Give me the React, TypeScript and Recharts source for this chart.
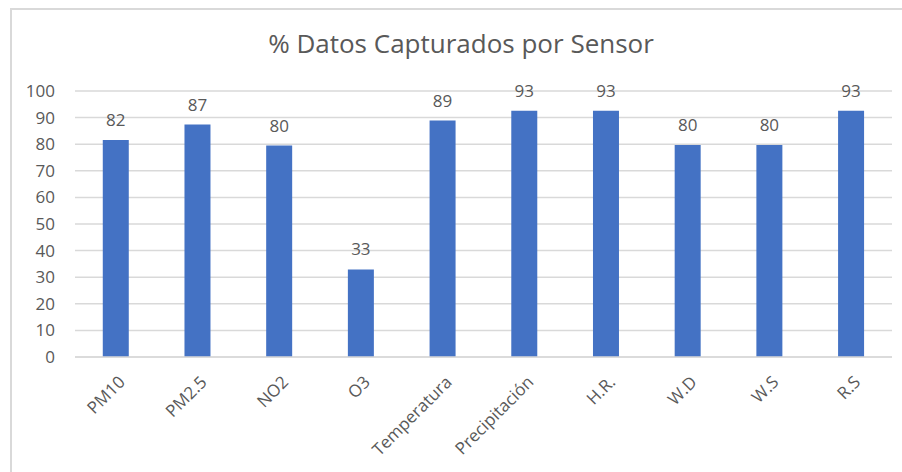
import { BarChart, Bar, XAxis, YAxis, CartesianGrid, LabelList } from "recharts";

const sensors = [
  "PM10",
  "PM2.5",
  "NO2",
  "O3",
  "Temperatura",
  "Precipitación",
  "H.R.",
  "W.D",
  "W.S",
  "R.S",
];
const captured = [81.6, 87.4, 79.5, 32.9, 88.9, 92.6, 92.6, 79.7, 79.7, 92.6];
const yTicks = [0, 10, 20, 30, 40, 50, 60, 70, 80, 90, 100];

const data = sensors.map((name, i) => ({ name, value: captured[i] }));

const FONT = "'Open Sans', 'Noto Sans', sans-serif";
const GREY = "#595959";

function RotatedTick(props: any) {
  const { x, y, payload } = props;
  return (
    <g transform={`translate(${x + 6},${y + 14})`}>
      <text
        transform="rotate(-45)"
        textAnchor="end"
        fill={GREY}
        fontSize={17}
        fontFamily={FONT}
        dy={6}
      >
        {payload.value}
      </text>
    </g>
  );
}

export default function App() {
  return (
    <div style={{ position: "absolute", left: 0, top: 0, width: 902, height: 472, background: "#fff" }}>
      <div
        style={{
          position: "absolute",
          left: 10,
          top: 8,
          width: 900,
          height: 470,
          border: "2px solid #d9d9d9",
        }}
      />
      <div
        style={{
          position: "absolute",
          left: 0,
          top: 25,
          width: 922,
          textAlign: "center",
          fontFamily: FONT,
          fontSize: 26,
          color: GREY,
        }}
      >
        % Datos Capturados por Sensor
      </div>
      <div style={{ position: "absolute", left: 0, top: 0 }}>
        <BarChart
          width={902}
          height={472}
          data={data}
          margin={{ top: 91, right: 10, bottom: 0, left: 0 }}
          barCategoryGap="34%"
        >
          <CartesianGrid vertical={false} stroke="#d9d9d9" strokeWidth={1.5} />
          <XAxis
            dataKey="name"
            interval={0}
            height={115}
            axisLine={{ stroke: "#d9d9d9", strokeWidth: 1.5 }}
            tickLine={false}
            tick={<RotatedTick />}
          />
          <YAxis
            width={75}
            domain={[0, 100]}
            ticks={yTicks}
            interval={0}
            axisLine={false}
            tickLine={false}
            tickMargin={14}
            tick={{ fill: GREY, fontSize: 17, fontFamily: FONT }}
          />
          <Bar dataKey="value" fill="#4472c4" isAnimationActive={false}>
            <LabelList
              dataKey="value"
              position="top"
              offset={14}
              formatter={(v: any) => Math.round(Number(v))}
              style={{ fill: GREY, fontSize: 17, fontFamily: FONT }}
            />
          </Bar>
        </BarChart>
      </div>
    </div>
  );
}
